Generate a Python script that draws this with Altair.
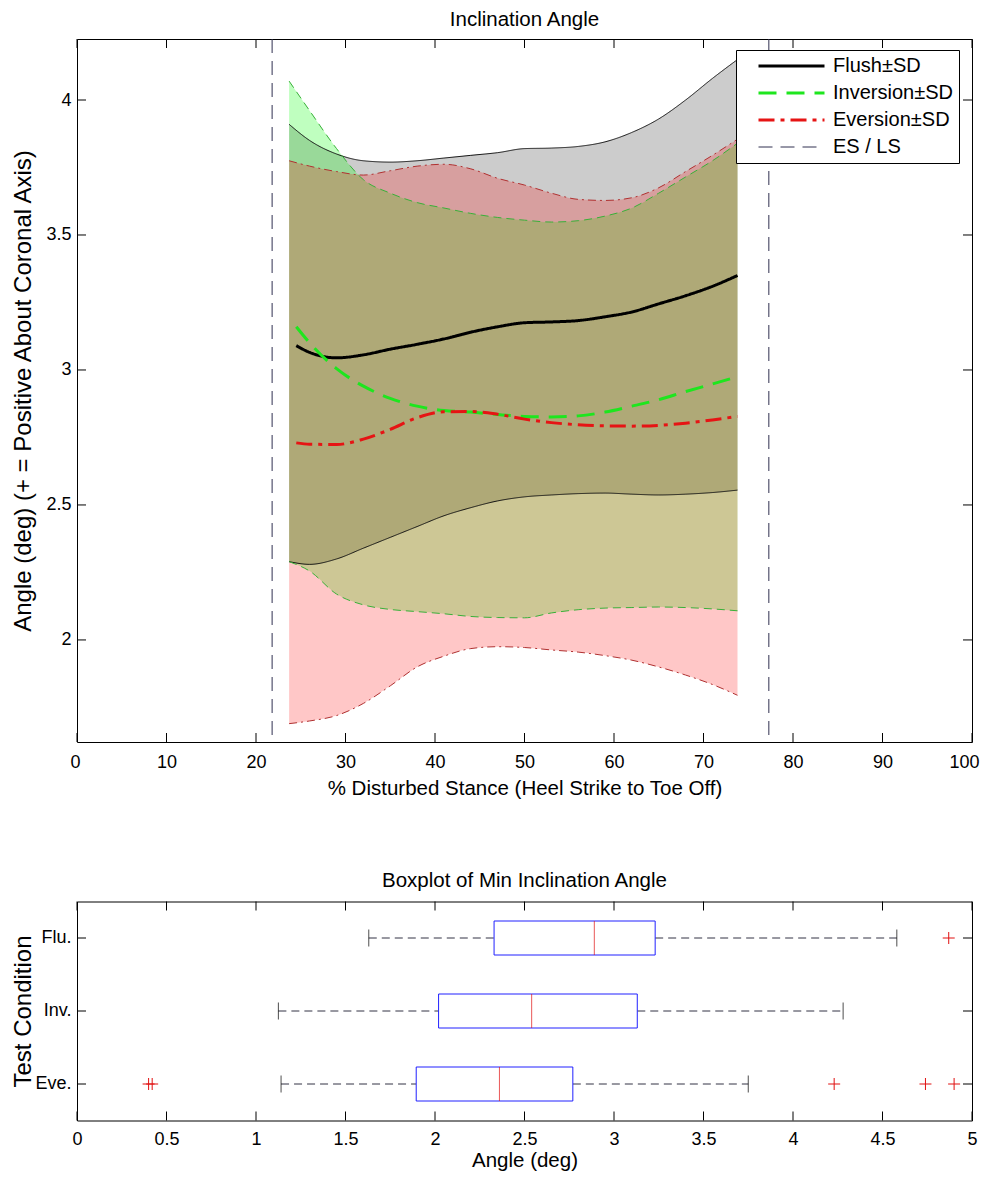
import altair as alt
import pandas as pd

FONT = "Liberation Sans"

# ---------------- top chart data ----------------
BAND_X = [23.7, 26, 29, 32, 35, 38, 41, 44, 47, 50, 53, 56, 59, 62, 65, 68, 71, 73.8]
FLUSH_HI = [3.91, 3.85, 3.80, 3.775, 3.77, 3.775, 3.785, 3.795, 3.805, 3.82, 3.822, 3.828, 3.845, 3.88, 3.93, 4.00, 4.08, 4.15]
FLUSH_LO = [2.29, 2.28, 2.30, 2.34, 2.38, 2.42, 2.46, 2.49, 2.515, 2.53, 2.537, 2.542, 2.544, 2.54, 2.537, 2.54, 2.546, 2.555]
INV_HI = [4.07, 3.96, 3.82, 3.705, 3.655, 3.62, 3.60, 3.58, 3.565, 3.555, 3.548, 3.553, 3.57, 3.60, 3.655, 3.715, 3.775, 3.84]
INV_LO = [2.29, 2.255, 2.17, 2.13, 2.113, 2.105, 2.097, 2.087, 2.083, 2.082, 2.10, 2.112, 2.118, 2.12, 2.122, 2.12, 2.115, 2.108]
EVE_HI = [3.775, 3.755, 3.735, 3.722, 3.738, 3.755, 3.762, 3.745, 3.71, 3.685, 3.655, 3.632, 3.628, 3.638, 3.675, 3.735, 3.795, 3.855]
EVE_LO = [1.69, 1.70, 1.72, 1.765, 1.83, 1.90, 1.94, 1.968, 1.975, 1.972, 1.963, 1.955, 1.942, 1.925, 1.90, 1.87, 1.835, 1.795]

MEAN_X = [24.5, 26, 29, 32, 35, 38, 41, 44, 47, 50, 53, 56, 59, 62, 65, 68, 71, 73.8]
FLUSH_MEAN = [3.09, 3.065, 3.045, 3.056, 3.077, 3.095, 3.115, 3.14, 3.16, 3.175, 3.178, 3.183, 3.197, 3.215, 3.245, 3.275, 3.31, 3.35]
INV_MEAN = [3.16, 3.10, 3.005, 2.94, 2.895, 2.866, 2.85, 2.844, 2.835, 2.828, 2.826, 2.83, 2.844, 2.866, 2.89, 2.92, 2.948, 2.975]
EVE_MEAN = [2.73, 2.725, 2.724, 2.744, 2.78, 2.823, 2.845, 2.846, 2.836, 2.818, 2.805, 2.797, 2.793, 2.792, 2.795, 2.803, 2.815, 2.828]

ES_LS_X = [21.8, 77.3]

SERIES = ["Flush±SD", "Inversion±SD", "Eversion±SD", "ES / LS"]
SERIES_COLORS = ["#000000", "#1ee61e", "#e61414", "#303050"]

TOP_XTICKS = [0, 10, 20, 30, 40, 50, 60, 70, 80, 90, 100]
TOP_YTICKS = [2, 2.5, 3, 3.5, 4]

# ---------------- boxplot data ----------------
BOX_CATS = ["Flu.", "Inv.", "Eve."]
BOX_WLO = [1.63, 1.125, 1.14]
BOX_Q1 = [2.33, 2.02, 1.895]
BOX_MED = [2.89, 2.54, 2.36]
BOX_Q3 = [3.23, 3.13, 2.77]
BOX_WHI = [4.58, 4.28, 3.75]
OUT_CAT = ["Flu.", "Eve.", "Eve.", "Eve.", "Eve.", "Eve."]
OUT_VAL = [4.87, 0.40, 0.42, 4.23, 4.74, 4.90]
BOT_XTICKS = [0, 0.5, 1, 1.5, 2, 2.5, 3, 3.5, 4, 4.5, 5]

# ---------------- sizes ----------------
W = 895
H1 = 703
H2 = 219
TL = 9  # inward tick length

# ================= top chart =================
XS = alt.Scale(domain=[0, 100], nice=False, zero=False)
YS = alt.Scale(domain=[1.622, 4.226], nice=False, zero=False)
XT = "% Disturbed Stance (Heel Strike to Toe Off)"
YT = "Angle (deg) (+ = Positive About Coronal Axis)"
XAX = alt.Axis(values=TOP_XTICKS, format="~r", labelPadding=11, titlePadding=7.5,
               labelFlush=True, labelFlushOffset=7, labelOverlap=False)
YAX = alt.Axis(values=TOP_YTICKS, format="~r", labelPadding=6, titlePadding=8,
               minExtent=34, maxExtent=34, labelFlush=False, labelOverlap=False,
               titleFontSize=24)


def xenc(f):
    return alt.X(f + ":Q", scale=XS, axis=XAX, title=XT)


def yenc(f):
    return alt.Y(f + ":Q", scale=YS, axis=YAX, title=YT)


flush_df = pd.DataFrame({"x": BAND_X, "lo": FLUSH_LO, "hi": FLUSH_HI})
inv_df = pd.DataFrame({"x": BAND_X, "lo": INV_LO, "hi": INV_HI})
eve_df = pd.DataFrame({"x": BAND_X, "lo": EVE_LO, "hi": EVE_HI})

mean_df = pd.DataFrame({
    "x": MEAN_X * 3,
    "m": FLUSH_MEAN + INV_MEAN + EVE_MEAN,
    "series": [SERIES[0]] * len(MEAN_X) + [SERIES[1]] * len(MEAN_X) + [SERIES[2]] * len(MEAN_X),
})
rule_df = pd.DataFrame({"x": ES_LS_X, "series": [SERIES[3]] * len(ES_LS_X)})

color = alt.Color("series:N", scale=alt.Scale(domain=SERIES, range=SERIES_COLORS), title=None)
dash = alt.StrokeDash("series:N", scale=alt.Scale(domain=SERIES, range=[[1, 0], [18, 10], [16, 6, 4, 6], [14, 8]]), title=None)
swidth = alt.StrokeWidth("series:N", scale=alt.Scale(type="ordinal", domain=SERIES, range=[3, 3, 3, 1]), title=None)


def band(df, col, op):
    return alt.Chart(df).mark_area(color=col, opacity=op, interpolate="monotone").encode(
        x=xenc("x"), y=yenc("lo"), y2="hi")


def edge(df, f, col, d):
    return alt.Chart(df).mark_line(color=col, strokeWidth=1, strokeDash=d, interpolate="monotone").encode(
        x=xenc("x"), y=yenc(f))


areas = [band(flush_df, "#808080", 0.4), band(inv_df, "#00ff00", 0.25), band(eve_df, "#ff0000", 0.22)]
edges = [
    edge(flush_df, "hi", "#111111", [1, 0]), edge(flush_df, "lo", "#111111", [1, 0]),
    edge(inv_df, "hi", "#38b038", [8, 5]), edge(inv_df, "lo", "#38b038", [8, 5]),
    edge(eve_df, "hi", "#b03030", [8, 4, 2, 4]), edge(eve_df, "lo", "#b03030", [8, 4, 2, 4]),
]
means = alt.Chart(mean_df).mark_line(interpolate="monotone").encode(
    x=xenc("x"), y=yenc("m"), color=color, strokeDash=dash, strokeWidth=swidth)
rules = alt.Chart(rule_df).mark_rule().encode(
    x=xenc("x"), color=color, strokeDash=dash, strokeWidth=swidth)

txdf = pd.DataFrame({"v": TOP_XTICKS})
tydf = pd.DataFrame({"v": TOP_YTICKS})
tticks = [
    alt.Chart(txdf).mark_rule(color="black").encode(x=xenc("v"), y=alt.value(H1), y2=alt.value(H1 - TL)),
    alt.Chart(txdf).mark_rule(color="black").encode(x=xenc("v"), y=alt.value(0), y2=alt.value(TL)),
    alt.Chart(tydf).mark_rule(color="black").encode(y=yenc("v"), x=alt.value(0), x2=alt.value(TL)),
    alt.Chart(tydf).mark_rule(color="black").encode(y=yenc("v"), x=alt.value(W - TL), x2=alt.value(W)),
]

top = alt.layer(*areas, *edges, means, rules, *tticks).properties(
    width=W, height=H1, title=alt.TitleParams("Inclination Angle", offset=8))

# ================= boxplot =================
BXS = alt.Scale(domain=[0, 5], nice=False, zero=False)
BYS = alt.Scale(domain=BOX_CATS, paddingInner=0, paddingOuter=0)
BXT = "Angle (deg)"
BYT = "Test Condition"
BXAX = alt.Axis(values=BOT_XTICKS, format="~r", labelPadding=10, titlePadding=1.5,
                labelFlush=False, labelOverlap=False)
BYAX = alt.Axis(labelPadding=6, titlePadding=8, minExtent=34, maxExtent=34, titleFontSize=24)


def bx(f):
    return alt.X(f + ":Q", scale=BXS, axis=BXAX, title=BXT)


def by():
    return alt.Y("cat:N", scale=BYS, axis=BYAX, title=BYT)


box_df = pd.DataFrame({"cat": BOX_CATS, "wlo": BOX_WLO, "q1": BOX_Q1, "med": BOX_MED,
                       "q3": BOX_Q3, "whi": BOX_WHI})
out_df = pd.DataFrame({"cat": OUT_CAT, "v": OUT_VAL})
WH = "#333344"

blayers = [
    alt.Chart(box_df).mark_rule(color=WH, strokeDash=[8, 5], strokeWidth=1).encode(x=bx("wlo"), x2="q1", y=by()),
    alt.Chart(box_df).mark_rule(color=WH, strokeDash=[8, 5], strokeWidth=1).encode(x=bx("q3"), x2="whi", y=by()),
    alt.Chart(box_df).mark_tick(color="black", size=17, thickness=1).encode(x=bx("wlo"), y=by()),
    alt.Chart(box_df).mark_tick(color="black", size=17, thickness=1).encode(x=bx("whi"), y=by()),
    alt.Chart(box_df).mark_bar(size=34, fill="white", stroke="#2020ff", strokeWidth=1).encode(x=bx("q1"), x2="q3", y=by()),
    alt.Chart(box_df).mark_tick(color="#e01010", size=34, thickness=1).encode(x=bx("med"), y=by()),
    alt.Chart(out_df).mark_point(shape="M-1,0L1,0M0,-1L0,1", size=144, filled=False,
                                 stroke="#e01010", strokeWidth=1, opacity=1).encode(x=bx("v"), y=by()),
]
bxt = pd.DataFrame({"v": BOT_XTICKS})
byt = pd.DataFrame({"cat": BOX_CATS})
bticks = [
    alt.Chart(bxt).mark_rule(color="black").encode(x=bx("v"), y=alt.value(H2), y2=alt.value(H2 - TL)),
    alt.Chart(bxt).mark_rule(color="black").encode(x=bx("v"), y=alt.value(0), y2=alt.value(TL)),
    alt.Chart(byt).mark_rule(color="black").encode(y=by(), x=alt.value(0), x2=alt.value(TL)),
    alt.Chart(byt).mark_rule(color="black").encode(y=by(), x=alt.value(W - TL), x2=alt.value(W)),
]
bottom = alt.layer(*blayers, *bticks).properties(
    width=W, height=H2, title=alt.TitleParams("Boxplot of Min Inclination Angle", offset=9.5))

chart = alt.vconcat(top, bottom, spacing=70.5).properties(
    padding={"left": 2, "top": 1, "right": 0, "bottom": 0}
).configure_view(
    stroke="black", strokeWidth=1
).configure_axis(
    ticks=False, domain=False, grid=False,
    labelFont=FONT, labelFontSize=18, labelColor="black",
    titleFont=FONT, titleFontSize=20.5, titleFontWeight="normal", titleColor="black",
).configure_title(
    font=FONT, fontSize=20.5, fontWeight="normal", color="black",
    anchor="middle", frame="group",
).configure_legend(
    orient="none", legendX=659, legendY=11,
    strokeColor="black", fillColor="white", padding=6, rowPadding=7,
    labelFont=FONT, labelFontSize=20, labelColor="black", labelLimit=400,
    symbolType="stroke", symbolSize=4356, symbolOffset=15, labelOffset=7,
    clipHeight=20, cornerRadius=0,
)

chart.save("out.html", embed_options={"renderer": "svg", "actions": False})
